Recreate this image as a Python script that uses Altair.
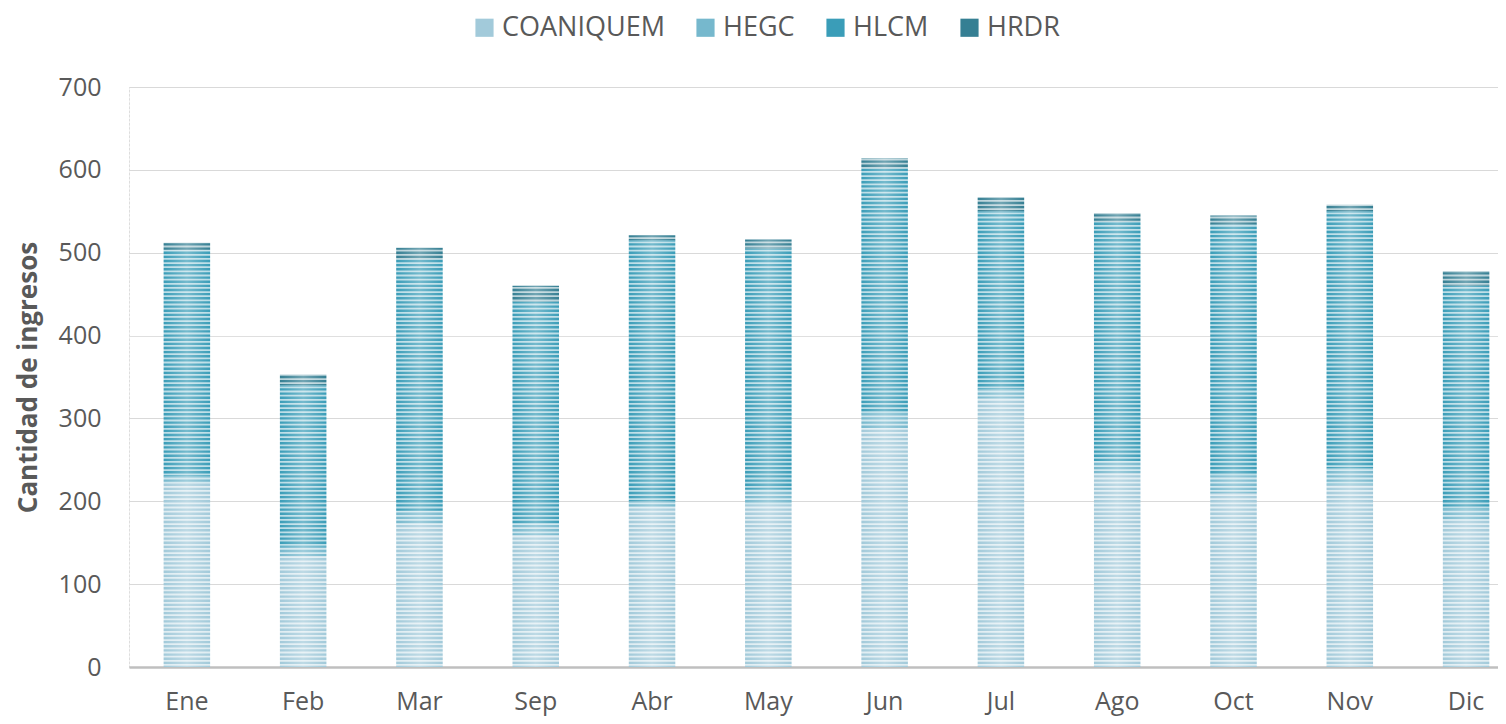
import altair as alt
import pandas as pd

months = ["Ene", "Feb", "Mar", "Sep", "Abr", "May", "Jun", "Jul", "Ago", "Oct", "Nov", "Dic"]
series = ["COANIQUEM", "HEGC", "HLCM", "HRDR"]
coaniquem = [222, 134, 173, 159, 193, 196, 288, 324, 234, 210, 220, 177]
hegc = [8, 11, 15, 14, 7, 18, 18, 11, 14, 21, 20, 13]
hlcm = [273, 195, 304, 268, 315, 291, 296, 215, 289, 303, 310, 270]
hrdr = [9, 13, 14, 19, 6, 11, 12, 17, 11, 11, 8, 18]
colors = ["#A2CADA", "#76B8CD", "#3A9DB8", "#357F93"]
y_ticks = [0, 100, 200, 300, 400, 500, 600, 700]

rows = []
for s_i, (name, vals) in enumerate(zip(series, [coaniquem, hegc, hlcm, hrdr])):
    for m, v in zip(months, vals):
        rows.append({"Mes": m, "Hospital": name, "Ingresos": v, "orden": s_i})
df = pd.DataFrame(rows)

W, H = 1369, 580
FONT = "Open Sans"
GREY = "#595959"

x_enc = alt.X("Mes:N", sort=months,
              scale=alt.Scale(paddingInner=0.6, paddingOuter=0.186, align=0.8),
              axis=alt.Axis(title=None, labelAngle=0, ticks=False, labelFontSize=25,
                            labelColor=GREY, labelFont=FONT, labelPadding=22,
                            domainColor="#BFBFBF", domainWidth=2.5, grid=False))
y_scale = alt.Scale(domain=[0, 700], nice=False)

bars = alt.Chart(df).mark_bar().encode(
    x=x_enc,
    y=alt.Y("Ingresos:Q", stack="zero", scale=y_scale,
            axis=alt.Axis(values=y_ticks, title="Cantidad de ingresos", ticks=False,
                          domain=False, labelFontSize=25, labelColor=GREY, labelFont=FONT,
                          labelPadding=28, gridColor="#D9D9D9", gridWidth=1,
                          titleFont=FONT, titleFontSize=26, titleFontWeight="bold",
                          titleColor=GREY, titleX=-101, titleY=H / 2, titleAngle=-90,
                          titleAlign="center", titleBaseline="middle")),
    color=alt.Color("Hospital:N", sort=series,
                    scale=alt.Scale(domain=series, range=colors),
                    legend=alt.Legend(title=None, orient="none", legendX=342, legendY=-73,
                                      direction="horizontal", symbolType="square",
                                      symbolSize=330, symbolStrokeWidth=0,
                                      labelFontSize=27, labelFont=FONT, labelColor=GREY,
                                      labelLimit=0, columnPadding=27, labelOffset=4)),
    order=alt.Order("orden:Q", sort="ascending"),
)

shine = alt.Chart(df).mark_bar(
    color=alt.Gradient(gradient="linear", x1=0, x2=1, y1=0, y2=0,
                       stops=[alt.GradientStop(offset=0, color="rgba(255,255,255,0)"),
                              alt.GradientStop(offset=0.5, color="rgba(255,255,255,0.3)"),
                              alt.GradientStop(offset=1, color="rgba(255,255,255,0)")])
).encode(
    x=alt.X("Mes:N", sort=months),
    y=alt.Y("sum(Ingresos):Q", scale=y_scale),
)

# horizontal white hatch lines emulating the striped fill pattern
stripes = alt.Chart(alt.sequence(0, 140, 1, as_="k")).transform_calculate(
    yv="datum.k * 5 + 2.5"
).mark_rule(color="white", strokeWidth=1.8, opacity=0.65).encode(
    y=alt.Y("yv:Q", scale=y_scale),
    x=alt.value(0),
    x2=alt.value(W),
)

chart = alt.layer(bars, shine, stripes).properties(
    width=W, height=H,
    autosize=alt.AutoSizeParams(type="none"),
    padding={"left": 121, "top": 79, "right": 0, "bottom": 49},
).configure_view(stroke=None).configure(background="white")

chart.save("out.html", embed_options={"renderer": "svg", "actions": False})
